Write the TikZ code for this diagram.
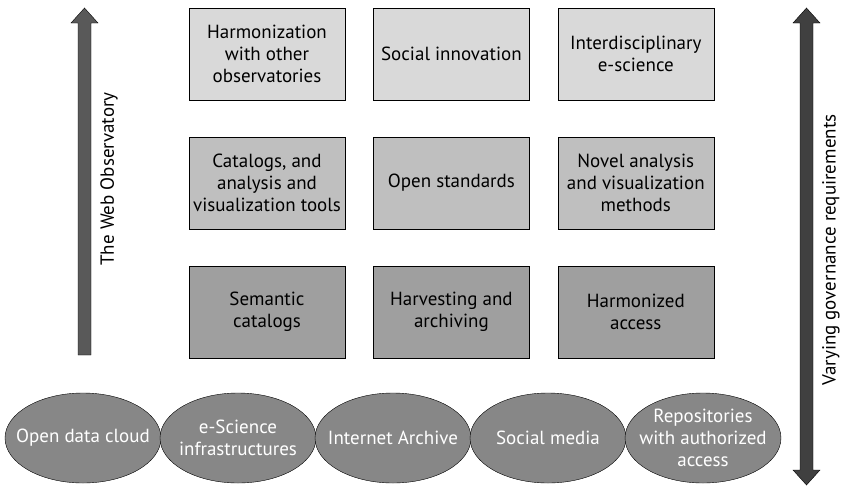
\documentclass[tikz,border=0pt]{standalone}
\usepackage{fontspec}
\setmainfont{PT Sans}
\usetikzlibrary{positioning,shapes.geometric}

\begin{document}
\begin{tikzpicture}[x=1pt,y=-1pt,node distance=28pt,font=\fontsize{19}{22}\selectfont,
	box/.style={draw,thin,minimum width=156pt,minimum height=92pt,inner sep=2pt,align=center},
	src/.style={ellipse,draw,thin,fill=gray!95!black!90,text=white,minimum width=156pt,minimum height=90pt,inner sep=-24pt,align=center}]
		\useasboundingbox (0,0) rectangle (841,488);

		\node[box,fill=gray!30] (h1) at (267,54) {Harmonization\\with other\\observatories};
		\node[box,fill=gray!30] (h2) [right=of h1] {Social innovation};
		\node[box,fill=gray!30] (h3) [right=of h2] {Interdisciplinary\\e-science};

		\node[box,fill=gray!50] (m1) [below=36.5pt of h1] {Catalogs, and\\analysis and\\visualization tools};
		\node[box,fill=gray!50] (m2) [right=of m1] {Open standards};
		\node[box,fill=gray!50] (m3) [right=of m2] {Novel analysis\\and visualization\\methods};

		\node[box,fill=gray!75] (l1) [below=36.5pt of m1] {Semantic\\catalogs};
		\node[box,fill=gray!75] (l2) [right=of l1] {Harvesting and\\archiving};
		\node[box,fill=gray!75] (l3) [right=of l2] {Harmonized\\access};

		\node[src] (s1) at (83,438) {Open data cloud};
		\node[src] (s2) at (238,438) {e-Science\\infrastructures};
		\node[src] (s3) at (393,438) {Internet Archive};
		\node[src] (s4) at (548,438) {Social media};
		\node[src] (s5) at (703,438) {Repositories\\with authorized\\access};

		% observatory arrow
		\filldraw[fill=black!65,thin] (78,355) -- (78,23) -- (71,23) -- (84.5,8) -- (98,23) -- (91,23) -- (91,355) -- cycle;
		\node[rotate=90] (obs) at (109,179) {The Web Observatory};

		% governance arrow
		\filldraw[fill=black!75,thin] (800,470) -- (800,23) -- (793,23) -- (806.5,8) -- (820,23) -- (813,23) -- (813,470) -- (820,470) -- (806.5,485) -- (793,470) -- cycle;
		\node[rotate=90] (gov) at (831,250) {Varying governance requirements};
	\end{tikzpicture}
\end{document}
